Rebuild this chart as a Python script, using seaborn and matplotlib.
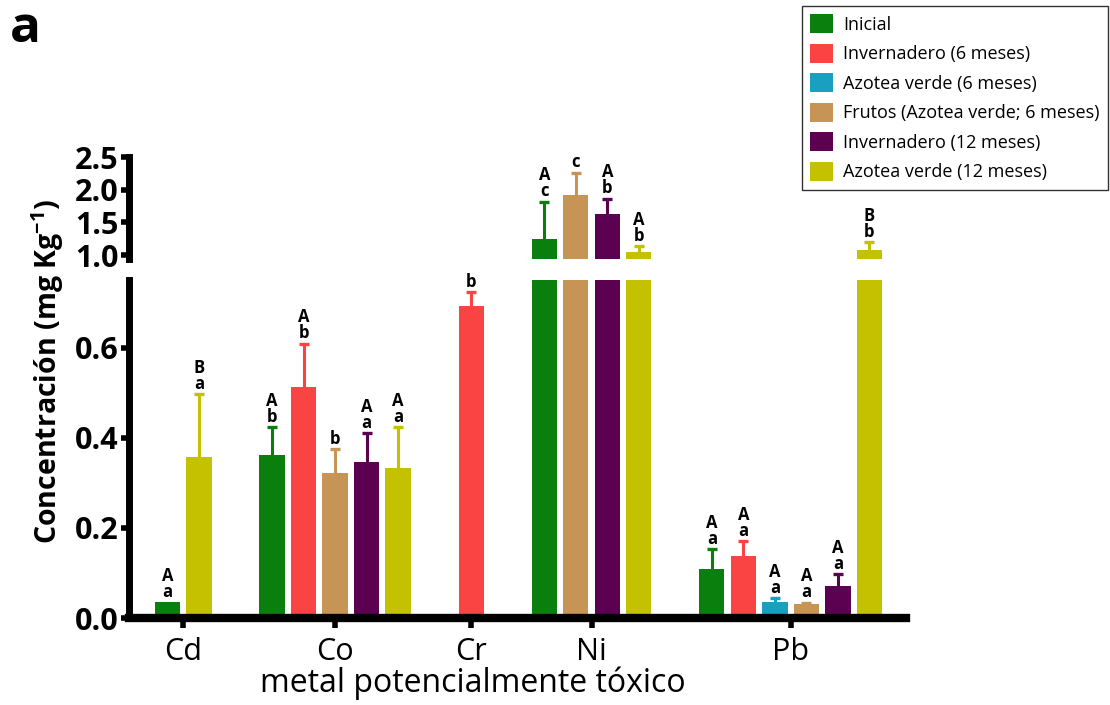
import numpy as np
import pandas as pd
import matplotlib
matplotlib.use("Agg")
import matplotlib.pyplot as plt
import seaborn as sns
from matplotlib.patches import Patch

nan = np.nan

# ---------------- data ----------------
metals = ["Cd", "Co", "Cr", "Ni", "Pb"]
series = ["Inicial", "Invernadero (6 meses)", "Azotea verde (6 meses)",
          "Frutos (Azotea verde; 6 meses)", "Invernadero (12 meses)",
          "Azotea verde (12 meses)"]
colors = ["#0b7f0e", "#fa4444", "#1b9fc0", "#c69454", "#5c0052", "#c3c100"]

inicial = [0.035, 0.361, nan, 1.24, 0.109]
inv6 = [nan, 0.512, 0.693, nan, 0.137]
az6 = [nan, nan, nan, nan, 0.035]
frutos = [nan, 0.321, nan, 1.919, 0.031]
inv12 = [nan, 0.346, nan, 1.623, 0.071]
az12 = [0.357, 0.332, nan, 1.046, 1.077]

inicial_err = [nan, 0.062, nan, 0.576, 0.044]
inv6_err = [nan, 0.097, 0.030, nan, 0.034]
az6_err = [nan, nan, nan, nan, 0.009]
frutos_err = [nan, 0.053, nan, 0.34, 0.003]
inv12_err = [nan, 0.064, nan, 0.239, 0.026]
az12_err = [0.139, 0.091, nan, 0.092, 0.123]

inicial_up = ["A", "A", "", "A", "A"]
inicial_low = ["a", "b", "", "c", "a"]
inv6_up = ["", "A", "", "", "A"]
inv6_low = ["", "b", "b", "", "a"]
az6_up = ["", "", "", "", "A"]
az6_low = ["", "", "", "", "a"]
frutos_up = ["", "", "", "", "A"]
frutos_low = ["", "b", "", "c", "a"]
inv12_up = ["", "A", "", "A", "A"]
inv12_low = ["", "a", "", "b", "a"]
az12_up = ["B", "A", "", "A", "B"]
az12_low = ["a", "a", "", "b", "b"]

yticks_low = [0.0, 0.2, 0.4, 0.6]
yticks_high = [1.0, 1.5, 2.0, 2.5]

values = [inicial, inv6, az6, frutos, inv12, az12]
errs = [inicial_err, inv6_err, az6_err, frutos_err, inv12_err, az12_err]
ups = [inicial_up, inv6_up, az6_up, frutos_up, inv12_up, az12_up]
lows = [inicial_low, inv6_low, az6_low, frutos_low, inv12_low, az12_low]

# layout of bars: present bars packed, extra gap between metals
GAP = 1.32
rows = []
k = 0
for gi, m in enumerate(metals):
    for si, s in enumerate(series):
        v = values[si][gi]
        if np.isnan(v):
            continue
        rows.append(dict(metal=m, serie=s, valor=v, err=errs[si][gi],
                         up=ups[si][gi], low=lows[si][gi], pos=k + gi * GAP))
        k += 1
df = pd.DataFrame(rows)
centers = df.groupby("metal", sort=False)["pos"].mean()

# ---------------- style ----------------
sns.set_style("ticks")
plt.rcParams["font.family"] = ["Open Sans", "DejaVu Sans"]
plt.rcParams["mathtext.default"] = "regular"
for key in ["text.color", "axes.labelcolor", "xtick.color", "ytick.color", "axes.edgecolor"]:
    plt.rcParams[key] = "black"

fig = plt.figure(figsize=(11.1, 7.05), dpi=100)
ax_b = fig.add_axes([0.1162, 0.1234, 0.7, 0.4794])
ax_t = fig.add_axes([0.1162, 0.6326, 0.7, 0.1447])

LOW_TOP = 0.75
HIGH_LIM = (0.94, 2.5)

for ax in (ax_b, ax_t):
    sns.barplot(data=df, x="pos", y="valor", hue="serie", hue_order=series,
                palette=colors, native_scale=True, dodge=False, width=0.8,
                saturation=1, linewidth=0, errorbar=None, legend=False, ax=ax)
    for s, c in zip(series, colors):
        sub = df[(df.serie == s) & df.err.notna()]
        if len(sub) == 0:
            continue
        ax.errorbar(sub.pos, sub.valor, yerr=[np.zeros(len(sub)), sub.err],
                    fmt="none", ecolor=c, elinewidth=2.2, capsize=0, zorder=3)
        ax.plot(sub.pos, sub.valor + sub.err, linestyle="none", marker="_",
                markersize=7.5, markeredgewidth=2.4, color=c, zorder=3)
    ax.set_xlim(-1.22, 23.44)

ax_b.set_ylim(0, LOW_TOP)
ax_t.set_ylim(*HIGH_LIM)

# letters
for _, r in df.iterrows():
    top = r.valor + (0 if np.isnan(r.err) else r.err)
    txt = r.low if r.up == "" else r.up + "\n" + r.low
    if txt == "":
        continue
    ax = ax_t if top > HIGH_LIM[0] else ax_b
    ax.annotate(txt, xy=(r.pos, top), xytext=(0, 1), textcoords="offset points",
                ha="center", va="bottom", fontsize=12, fontweight="bold",
                linespacing=0.85, annotation_clip=False, color="black")

# axes styling
for ax in (ax_b, ax_t):
    for sp in ["top", "right"]:
        ax.spines[sp].set_visible(False)
    ax.spines["left"].set_linewidth(5)
    ax.tick_params(axis="y", width=4, length=6, pad=1.5)
    ax.set_ylabel("")
    ax.set_xlabel("")

ax_t.spines["bottom"].set_visible(False)
ax_t.tick_params(axis="x", bottom=False, labelbottom=False)
ax_b.spines["bottom"].set_linewidth(6)

ax_b.set_yticks(yticks_low)
ax_b.set_yticklabels([f"{t:.1f}" for t in yticks_low], fontsize=22, fontweight="bold")
ax_t.set_yticks(yticks_high)
ax_t.set_yticklabels([f"{t:.1f}" for t in yticks_high], fontsize=22, fontweight="bold")

ax_b.set_xticks(centers.values)
ax_b.set_xticklabels(centers.index, fontsize=22)
ax_b.tick_params(axis="x", width=4, length=7, pad=7)

fig.text(473 / 1110, 1 - 683 / 705, "metal potencialmente tóxico", fontsize=23,
         ha="center", va="center")
fig.text(0.0425, 0.473, "Concentración (mg Kg$^{-1}$)", rotation=90,
         ha="center", va="center", fontsize=20.5, fontweight="bold")
fig.text(0.009, 1 - 42 / 705, "a", fontsize=37, fontweight="bold", va="baseline")

handles = [Patch(facecolor=c, edgecolor="none", label=s) for s, c in zip(series, colors)]
leg = fig.legend(handles=handles, loc="upper right",
                 bbox_to_anchor=(1108 / 1110, 1 - 6 / 705), frameon=True,
                 fancybox=False, edgecolor="black", fontsize=13,
                 handlelength=1.3, handleheight=1.25, handletextpad=0.55,
                 labelspacing=0.55, borderpad=0.45, borderaxespad=0)
leg.get_frame().set_linewidth(1)

fig.savefig("out.png", dpi=100)
